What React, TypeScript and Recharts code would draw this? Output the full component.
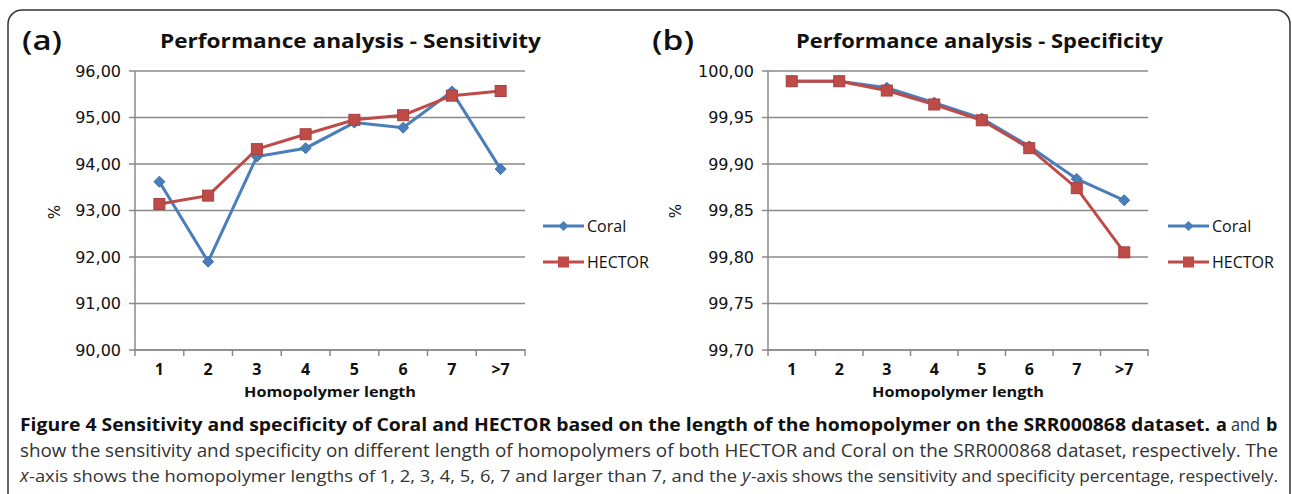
import React from 'react';
import { LineChart, Line, XAxis, YAxis, CartesianGrid } from 'recharts';

const categories = ['1', '2', '3', '4', '5', '6', '7', '>7'];
const coralSensitivity = [93.62, 91.9, 94.16, 94.34, 94.89, 94.78, 95.56, 93.89];
const hectorSensitivity = [93.14, 93.32, 94.32, 94.64, 94.95, 95.05, 95.47, 95.57];
const coralSpecificity = [99.989, 99.989, 99.982, 99.966, 99.949, 99.919, 99.884, 99.861];
const hectorSpecificity = [99.989, 99.989, 99.979, 99.964, 99.947, 99.917, 99.874, 99.805];
const sensitivityTicks = [90, 91, 92, 93, 94, 95, 96];
const specificityTicks = [99.7, 99.75, 99.8, 99.85, 99.9, 99.95, 100];
const seriesNames = ['Coral', 'HECTOR'];

const CORAL = '#4A7EBB';
const HECTOR = '#BE4B48';
const AXIS = '#8a8a8a';

const sensitivityData = categories.map((c, i) => ({ cat: c, coral: coralSensitivity[i], hector: hectorSensitivity[i] }));
const specificityData = categories.map((c, i) => ({ cat: c, coral: coralSpecificity[i], hector: hectorSpecificity[i] }));

const fmt = (v: number) => v.toFixed(2).replace('.', ',');

const diamondPath = (cx: number, cy: number, r: number) =>
  `M${cx},${cy - r}L${cx + r},${cy}L${cx},${cy + r}L${cx - r},${cy}Z`;

const DiamondDot = (props: any) => {
  const { cx, cy, index } = props;
  if (cx == null || cy == null) return <g key={`cd-${index}`} />;
  return <path key={`cd-${index}`} d={diamondPath(cx, cy, 5.5)} fill={CORAL} stroke="#3f70ab" strokeWidth={1} />;
};

const SquareDot = (props: any) => {
  const { cx, cy, index } = props;
  if (cx == null || cy == null) return <g key={`hd-${index}`} />;
  return <rect key={`hd-${index}`} x={cx - 5.5} y={cy - 5.5} width={11} height={11} fill={HECTOR} stroke="#a8403d" strokeWidth={1} />;
};

const XTick = (props: any) => {
  const { x, y, payload, index, visibleTicksCount, band } = props;
  const n = visibleTicksCount || categories.length;
  const left = x - band / 2;
  return (
    <g>
      <line x1={left} x2={left} y1={y - 1} y2={y + 6} stroke={AXIS} strokeWidth={1.5} />
      {index === n - 1 && (
        <line x1={x + band / 2} x2={x + band / 2} y1={y - 1} y2={y + 6} stroke={AXIS} strokeWidth={1.5} />
      )}
      <text x={x} y={y + 25} textAnchor="middle" fontFamily="'Open Sans', sans-serif" fontWeight={700} fontSize={16} fill="#111">
        {payload.value}
      </text>
    </g>
  );
};

const Panel = ({ data, ticks, domain, left, marginLeft, marginRight }: any) => {
  const plotWidth = 660 - marginLeft - 60 - marginRight;
  const band = plotWidth / categories.length;
  return (
    <div style={{ position: 'absolute', left, top: 0 }}>
      <LineChart
        width={660}
        height={420}
        data={data}
        margin={{ top: 71, right: marginRight, bottom: 30, left: marginLeft }}
      >
        <CartesianGrid vertical={false} stroke={AXIS} strokeWidth={1.5} />
        <XAxis
          dataKey="cat"
          type="category"
          height={40}
          padding={{ left: band / 2, right: band / 2 }}
          tickLine={false}
          tickSize={0}
          tickMargin={0}
          axisLine={{ stroke: AXIS, strokeWidth: 1.5 }}
          tick={<XTick band={band} />}
          interval={0}
        />
        <YAxis
          type="number"
          domain={domain}
          ticks={ticks}
          width={60}
          tickFormatter={fmt}
          tickSize={6}
          tickMargin={8}
          axisLine={{ stroke: AXIS, strokeWidth: 1.5 }}
          tickLine={{ stroke: AXIS, strokeWidth: 1.5 }}
          tick={{ fill: '#111', fontSize: 16, fontFamily: "'DejaVu Sans', sans-serif" }}
          interval={0}
          allowDataOverflow
        />
        <Line type="linear" dataKey="coral" name={seriesNames[0]} stroke={CORAL} strokeWidth={3} dot={DiamondDot} activeDot={false} isAnimationActive={false} />
        <Line type="linear" dataKey="hector" name={seriesNames[1]} stroke={HECTOR} strokeWidth={3} dot={SquareDot} activeDot={false} isAnimationActive={false} />
      </LineChart>
    </div>
  );
};

const LegendBlock = ({ x, y }: { x: number; y: number }) => (
  <g>
    <line x1={x} x2={x + 41} y1={y} y2={y} stroke={CORAL} strokeWidth={3} />
    <path d={diamondPath(x + 20.5, y, 5)} fill={CORAL} />
    <text x={x + 44} y={y + 6} fontFamily="'Open Sans', sans-serif" fontSize={16} fill="#111">{seriesNames[0]}</text>
    <line x1={x} x2={x + 41} y1={y + 36} y2={y + 36} stroke={HECTOR} strokeWidth={3} />
    <rect x={x + 15} y={y + 30.5} width={11} height={11} fill={HECTOR} />
    <text x={x + 44} y={y + 42} fontFamily="'Open Sans', sans-serif" fontSize={16} fill="#111">{seriesNames[1]}</text>
  </g>
);

export default function App() {
  const cap = "'Open Sans', sans-serif";
  return (
    <div style={{ position: 'fixed', left: 0, top: 0, width: 1292, height: 494, background: '#fff', overflow: 'hidden' }}>
      <Panel data={sensitivityData} ticks={sensitivityTicks} domain={[90, 96]} left={0} marginLeft={75} marginRight={135} />
      <Panel data={specificityData} ticks={specificityTicks} domain={[99.7, 100]} left={640} marginLeft={68} marginRight={152} />
      <svg width={1292} height={494} style={{ position: 'absolute', left: 0, top: 0, pointerEvents: 'none' }}>
        <path d="M8,500 L8,24 A14,14 0 0 1 22,10 L1276,10 A14,14 0 0 1 1290,24 L1290,500" fill="none" stroke="#333" strokeWidth={1.5} />
        <text x={22} y={50} fontFamily={cap} fontWeight={600} fontSize={27} textLength={40} lengthAdjust="spacingAndGlyphs" fill="#111">(a)</text>
        <text x={160} y={48} fontFamily={cap} fontWeight={700} fontSize={20} textLength={381} lengthAdjust="spacingAndGlyphs" fill="#111">Performance analysis - Sensitivity</text>
        <text x={652} y={50} fontFamily={cap} fontWeight={600} fontSize={27} textLength={42} lengthAdjust="spacingAndGlyphs" fill="#111">(b)</text>
        <text x={796} y={48} fontFamily={cap} fontWeight={700} fontSize={20} textLength={367} lengthAdjust="spacingAndGlyphs" fill="#111">Performance analysis - Specificity</text>
        <text transform="translate(60,212) rotate(-90)" textAnchor="middle" fontFamily="'DejaVu Sans', sans-serif" fontSize={15} fill="#111">%</text>
        <text transform="translate(681,211) rotate(-90)" textAnchor="middle" fontFamily="'DejaVu Sans', sans-serif" fontSize={15} fill="#111">%</text>
        <text x={330} y={397} textAnchor="middle" fontFamily={cap} fontWeight={700} fontSize={15} textLength={172} lengthAdjust="spacingAndGlyphs" fill="#111">Homopolymer length</text>
        <text x={958} y={397} textAnchor="middle" fontFamily={cap} fontWeight={700} fontSize={15} textLength={172} lengthAdjust="spacingAndGlyphs" fill="#111">Homopolymer length</text>
        <LegendBlock x={543} y={226} />
        <LegendBlock x={1168} y={226} />
        <text x={20} y={431} fontFamily={cap} fontWeight={700} fontSize={18} textLength={1190} lengthAdjust="spacingAndGlyphs" fill="#111">Figure 4 Sensitivity and specificity of Coral and HECTOR based on the length of the homopolymer on the SRR000868 dataset.</text>
        <text x={1216} y={431} fontFamily={cap} fontWeight={700} fontSize={18} fill="#111">a</text>
        <text x={1231} y={431} fontFamily={cap} fontWeight={400} fontSize={18} textLength={29} lengthAdjust="spacingAndGlyphs" fill="#333">and</text>
        <text x={1266} y={431} fontFamily={cap} fontWeight={700} fontSize={18} fill="#111">b</text>
        <text x={20} y={457} fontFamily={cap} fontWeight={400} fontSize={18} textLength={1258} lengthAdjust="spacingAndGlyphs" fill="#333">show the sensitivity and specificity on different length of homopolymers of both HECTOR and Coral on the SRR000868 dataset, respectively. The</text>
        <text x={20} y={482} fontFamily={cap} fontStyle="italic" fontSize={18} fill="#333">x</text>
        <text x={29} y={482} fontFamily={cap} fontWeight={400} fontSize={17} textLength={708} lengthAdjust="spacingAndGlyphs" fill="#333">-axis shows the homopolymer lengths of 1, 2, 3, 4, 5, 6, 7 and larger than 7, and the</text>
        <text x={742} y={482} fontFamily={cap} fontStyle="italic" fontSize={18} fill="#333">y</text>
        <text x={751} y={482} fontFamily={cap} fontWeight={400} fontSize={16.5} textLength={527} lengthAdjust="spacingAndGlyphs" fill="#333">-axis shows the sensitivity and specificity percentage, respectively.</text>
      </svg>
    </div>
  );
}
